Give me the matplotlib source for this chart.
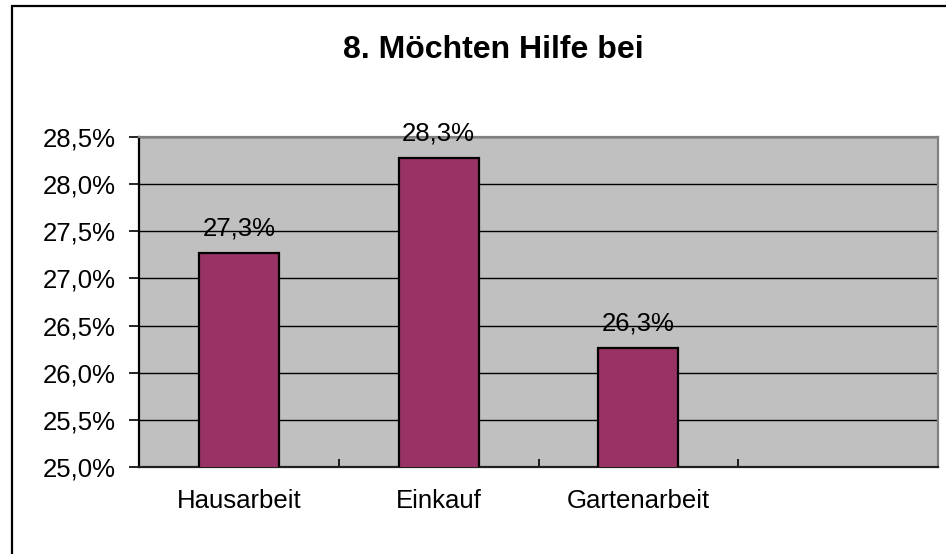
import matplotlib
matplotlib.use("Agg")
import matplotlib.pyplot as plt
from matplotlib.patches import Rectangle

# data
categories = ["Hausarbeit", "Einkauf", "Gartenarbeit", ""]
values = [27.27, 28.28, 26.26]
title = "8. Möchten Hilfe bei"

plt.rcParams['font.family'] = ['Liberation Sans', 'DejaVu Sans']

fig = plt.figure(figsize=(9.46, 5.54), dpi=100)
ax = fig.add_axes([139/946, 1-467/554, (938-139)/946, (467-137)/554])
ax.set_facecolor('#c0c0c0')

x = list(range(len(values)))
ax.bar(x, values, width=0.4, bottom=0, color='#993366', edgecolor='black', linewidth=1.6, zorder=3)

for xi, v in zip(x, values):
    lbl = f"{v:.1f}%".replace('.', ',')
    ax.annotate(lbl, (xi, v), xytext=(0, 9), textcoords='offset points',
                ha='center', va='bottom', fontsize=18.5, color='black', zorder=4)

ax.set_xlim(-0.5, len(categories) - 0.5)
ax.set_ylim(25.0, 28.5)
yt = [25.0 + 0.5*i for i in range(8)]
ax.set_yticks(yt)
ax.set_yticklabels([f"{t:.1f}%".replace('.', ',') for t in yt], fontsize=18.5)
ax.tick_params(axis='y', direction='out', length=7, width=1.2, pad=10)

ax.set_xticks(range(len(categories)))
ax.set_xticklabels(categories, fontsize=18.5)
ax.tick_params(axis='x', which='major', length=0, pad=16)
ax.set_xticks([0.5, 1.5, 2.5], minor=True)
ax.tick_params(axis='x', which='minor', direction='in', length=6, width=1.2)

ax.yaxis.grid(True, color='black', linewidth=1.0, zorder=1)
ax.set_axisbelow(True)

ax.spines['left'].set_color('black')
ax.spines['bottom'].set_color('#202020')
ax.spines['top'].set_color('#808080')
ax.spines['right'].set_color('#808080')
for s in ax.spines.values():
    s.set_linewidth(1.6)

fig.text(493/946, 1-50/554, title, ha='center', va='center', fontsize=23, fontweight='bold')

# outer chart border (only top and left visible)
fig.add_artist(Rectangle((12/946, -0.1), 2, 1 - 6/554 + 0.1, transform=fig.transFigure,
                         fill=False, edgecolor='black', linewidth=1.6))

fig.savefig("out.png", dpi=100)
